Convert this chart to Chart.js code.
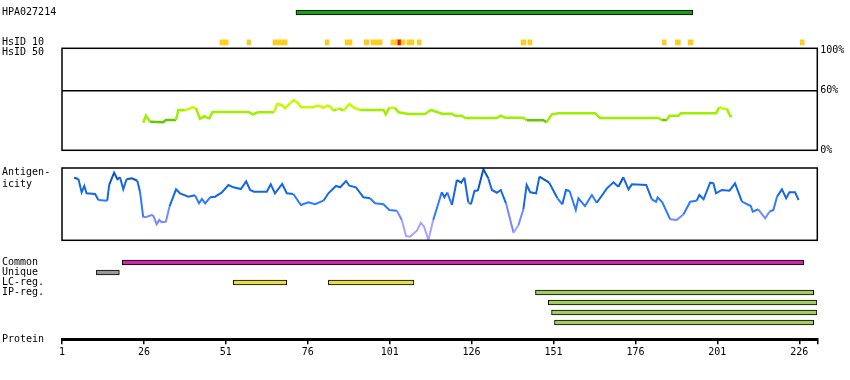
<!DOCTYPE html>
<html lang="en">
<head>
<meta charset="UTF-8">
<title>HPA027214</title>
<script src="https://cdn.jsdelivr.net/npm/chart.js"></script>
<style>
  body { margin: 0; background: #fff; }
  #wrap { position: relative; width: 850px; height: 380px; }
  #wrap canvas { position: absolute; left: 0; top: 0; }
</style>
</head>
<body>
<div id="wrap">
  <canvas id="topChart" width="850" height="380"></canvas>
  <canvas id="idChart" width="850" height="380"></canvas>
  <canvas id="antChart" width="850" height="380"></canvas>
  <canvas id="trackChart" width="850" height="380"></canvas>
  <canvas id="axisChart" width="850" height="380"></canvas>
</div>
<script>
// ---- data ----
const proteinLength = 231;
const axisTicks = [1, 26, 51, 76, 101, 126, 151, 176, 201, 226];

const topRows = ['HPA027214', 'gap1', 'gap2', 'HsID 10'];
const topTitles = ['HPA027214', '', '', 'HsID 10'];
const antigenRange = [72.4, 193.5];
const hsid10Yellow = [[49.2, 51.7], [57.5, 58.6], [65.4, 69.7], [81.3, 82.5], [87.4, 89.5], [93.2, 94.7],
  [95.3, 98.7], [101.4, 103.3], [104.5, 105.7], [106.3, 108.4], [109.4, 110.6], [141.1, 142.6],
  [143.2, 144.4], [184.2, 185.4], [188.2, 189.7], [192.1, 193.6], [226.3, 227.5]];
const hsid10Red = [[103.3, 104.5]];

const identityTicks = [0, 60, 100];
const identityPos = [25.8, 26.6, 27.9, 31.9, 32.7, 35.8, 36.5, 38.5, 40.9, 41.9, 43.1, 44.6, 45.2, 46.0, 46.9,
  57.9, 59.2, 60.9, 65.7, 66.7, 68.1, 69.1, 70.6, 71.8, 73.1, 73.9, 77.7, 78.8, 80.3, 80.7, 82.0, 83.0, 83.8,
  84.8, 85.6, 86.9, 88.7, 89.9, 92.0, 99.1, 99.8, 100.9, 102.6, 103.7, 106.7, 111.8, 113.6, 115.4, 116.9,
  120.0, 121.0, 123.0, 124.0, 133.7, 134.9, 136.2, 141.8, 142.8, 147.9, 148.9, 150.5, 152.5, 163.7, 165.2,
  183.0, 184.0, 185.6, 186.4, 189.1, 189.9, 200.6, 201.6, 202.9, 203.9, 204.9, 205.5];
const identityPct = [27.6, 34.6, 28.6, 28, 30.3, 30.3, 40.3, 40, 43, 42, 31.6, 34, 32.6, 32, 38.3,
  38.3, 36, 38, 38, 46.3, 45.3, 42, 47, 50.3, 47, 43, 43, 44.6, 43.6, 42.3, 44.6, 43.5, 39.6,
  41, 42, 39.6, 46.3, 43, 40.3, 40.3, 36, 42.6, 42.6, 38, 36.3, 36.3, 40.3, 38.3, 36.6,
  36.6, 34.6, 34.6, 32.3, 32.3, 34.6, 32.6, 32.6, 30, 30, 28, 36, 37, 37, 32.3,
  32.3, 30.3, 30.3, 34.6, 34.6, 37, 37, 43, 41.5, 41.5, 34.3, 34.3];

const antigenPos = [4.7, 6.0, 7.0, 7.5, 7.8, 8.5, 11.1, 12.1, 14.8, 15.4, 16.9, 17.9, 18.7, 19.7, 20.7, 22.3,
  24.0, 24.8, 25.8, 26.9, 28.4, 28.9, 29.9, 30.7, 31.4, 32.7, 33.8, 35.8, 37.0, 39.6, 41.6, 42.8, 43.7, 44.7,
  46.2, 47.7, 49.7, 51.8, 53.3, 55.6, 57.2, 58.4, 59.6, 63.5, 64.7, 66.0, 68.2, 69.6, 71.6, 73.9, 76.2, 78.2,
  80.8, 82.3, 84.6, 85.9, 87.7, 88.7, 90.7, 93.0, 95.0, 96.5, 99.1, 100.9, 103.2, 104.7, 106.0, 107.2, 109.3,
  110.5, 111.5, 112.8, 114.3, 116.9, 117.7, 118.6, 120.0, 121.5, 122.8, 123.8, 125.0, 125.8, 126.9, 127.9,
  129.6, 131.1, 132.2, 133.7, 134.9, 136.5, 138.8, 140.3, 141.8, 142.8, 143.9, 145.7, 146.7, 149.7, 152.2,
  153.7, 154.8, 155.9, 157.8, 158.6, 160.6, 162.7, 164.2, 167.3, 169.3, 170.8, 172.3, 173.9, 174.9, 179.3,
  181.0, 182.3, 182.8, 184.2, 186.6, 188.6, 190.7, 192.7, 194.7, 195.5, 196.8, 198.8, 199.8, 200.6, 202.4,
  204.7, 206.4, 208.5, 211.2, 211.8, 213.5, 215.6, 216.9, 218.1, 219.2, 220.7, 222.0, 223.0, 224.7, 225.8];
const antigenScore = [86.6, 84.8, 66.4, 71.9, 75.1, 65, 64, 55.7, 54.8, 76.5, 93.5, 84.4, 87.1, 70.5, 84.4, 85.7,
  82.4, 67.2, 31.8, 32.6, 35, 33.6, 22.1, 28.1, 24.9, 25.7, 46.5, 70.5, 65, 60.3, 62.2, 51.2, 57.1, 51.2,
  59.5, 60.3, 65.8, 76.5, 73.3, 70.9, 81.6, 69.6, 67.2, 67.2, 77.4, 65, 77.9, 65, 64, 48.8, 52.6, 49.8,
  54.8, 65, 75.1, 73.3, 82, 75.5, 73.3, 59.5, 58.1, 51.2, 49.8, 41.9, 40.9, 28.1, 5.9, 5, 13.3,
  24.3, 18.8, 0.4, 28.1, 66.4, 59.5, 66, 48.8, 83.4, 79.7, 86.6, 52.6, 49.8, 68.6, 68.6,
  98.2, 85.7, 69.6, 65.8, 69.6, 51.2, 10.5, 21.2, 42.9, 76.5, 66.4, 65, 88, 79.7, 58.1,
  49.8, 69.6, 68.2, 41.9, 58.1, 47.4, 62.6, 52, 71.9, 80.2, 74.1, 87.1, 70.5, 77.4, 76.5,
  56.7, 53.4, 59.5, 52.6, 29, 28.1, 36, 53.4, 54.8, 62.6, 56.7, 79.7, 78.8, 65, 69.6,
  68.6, 78.8, 53.4, 47.4, 39.6, 42.9, 30.4, 39.6, 41.9, 60.3, 70.5, 58.1, 66.4, 66.4, 55.7];

const trackRows = ['Common', 'Unique', 'LC-reg.', 'IP-reg.', 'IP-2', 'IP-3', 'IP-4'];
const trackTitles = ['Common', 'Unique', 'LC-reg.', 'IP-reg.', '', '', ''];
const commonRegion = [19.4, 227.4];
const uniqueRegion = [11.5, 18.5];
const lcRegions = [[53.3, 69.6], [82.3, 108.4]];
const ipRegions = [[145.5, 230.4], [149.4, 231.4], [150.4, 231.4], [151.3, 230.4]];

// ---- helpers ----
const font = { family: 'DejaVu Sans Mono', size: 10 };
const leftFit = s => { s.width = 60; };

function xScale(display) {
  return { type: 'linear', min: 1, max: proteinLength + 0.5, display: display };
}

function identityColor(v) {
  if (v < 31) return '#66c800';
  if (v < 41.5) return '#9ef000';
  return '#c6fa00';
}

function antigenColor(v) {
  if (v > 80) return '#0a56c2';
  if (v > 58) return '#1468e6';
  if (v > 40) return '#2e7aff';
  if (v > 22) return '#7488ff';
  return '#a8a2ff';
}

const panelBox = {
  id: 'panelBox',
  afterDraw(chart) {
    const a = chart.chartArea, c = chart.ctx;
    c.save();
    c.strokeStyle = '#000';
    c.lineWidth = 1.5;
    c.strokeRect(a.left, a.top, a.right - a.left, a.bottom - a.top);
    c.restore();
  }
};

const common = {
  responsive: false,
  animation: false,
  plugins: { legend: { display: false }, tooltip: { enabled: false } }
};

// ---- top: antibody + HsID 10 ----
new Chart(document.getElementById('topChart'), {
  type: 'bar',
  data: {
    labels: topRows,
    datasets: [
      { data: [{ y: topRows[0], x: antigenRange }], backgroundColor: '#1c9c1c', borderColor: '#000', borderWidth: 1 },
      { data: hsid10Yellow.map(r => ({ y: topRows[3], x: r })), backgroundColor: '#ffcc22', borderWidth: 0 },
      { data: hsid10Red.map(r => ({ y: topRows[3], x: r })), backgroundColor: '#ee1100', borderWidth: 0 }
    ]
  },
  options: {
    ...common,
    indexAxis: 'y',
    datasets: { bar: { grouped: false, borderSkipped: false, barThickness: 5 } },
    layout: { padding: { left: 2, right: 32.7, top: 7.5, bottom: 332.7 } },
    scales: {
      x: xScale(false),
      y: {
        grid: { display: false }, border: { display: false },
        ticks: { autoSkip: false, crossAlign: 'far', padding: 0, font, color: '#000', callback: (v, i) => topTitles[i] },
        afterFit: leftFit
      }
    }
  }
});

// ---- HsID 50 identity panel ----
new Chart(document.getElementById('idChart'), {
  type: 'line',
  data: {
    datasets: [{
      data: identityPos.map((x, i) => ({ x, y: identityPct[i] })),
      yAxisID: 'y',
      borderWidth: 2.5,
      pointRadius: 0,
      borderColor: '#9ef000',
      segment: { borderColor: ctx => identityColor((ctx.p0.parsed.y + ctx.p1.parsed.y) / 2) }
    }]
  },
  options: {
    ...common,
    layout: { padding: { left: 2, right: 0, top: 48.3, bottom: 229.7 } },
    scales: {
      x: xScale(false),
      y: {
        position: 'right', min: 0, max: 102,
        afterBuildTicks: s => { s.ticks = identityTicks.map(v => ({ value: v })); },
        ticks: { callback: v => v + '%', padding: 3, font, color: '#000' },
        grid: { drawTicks: false, lineWidth: 1.5, color: ctx => (ctx.tick && ctx.tick.value === 60) ? '#000' : 'rgba(0,0,0,0)' },
        border: { display: false },
        afterFit: s => { s.width = 32.7; }
      },
      yl: {
        position: 'left', min: 0, max: 102,
        afterBuildTicks: s => { s.ticks = [{ value: 100 }]; },
        ticks: { callback: () => 'HsID 50', crossAlign: 'far', padding: 0, labelOffset: 2, font, color: '#000' },
        grid: { display: false }, border: { display: false },
        afterFit: leftFit
      }
    }
  },
  plugins: [panelBox]
});

// ---- antigenicity panel ----
new Chart(document.getElementById('antChart'), {
  type: 'line',
  data: {
    datasets: [{
      data: antigenPos.map((x, i) => ({ x, y: antigenScore[i] })),
      borderWidth: 2,
      pointRadius: 0,
      borderColor: '#1468e6',
      segment: { borderColor: ctx => antigenColor((ctx.p0.parsed.y + ctx.p1.parsed.y) / 2) }
    }]
  },
  options: {
    ...common,
    layout: { padding: { left: 2, right: 32.7, top: 168, bottom: 139.7 } },
    scales: {
      x: xScale(false),
      y: {
        min: 0, max: 100,
        afterBuildTicks: s => { s.ticks = [{ value: 86 }]; },
        ticks: { callback: () => ['Antigen-', 'icity'], crossAlign: 'far', padding: 0, font, color: '#000' },
        grid: { display: false }, border: { display: false },
        afterFit: leftFit
      }
    }
  },
  plugins: [panelBox]
});

// ---- region tracks ----
new Chart(document.getElementById('trackChart'), {
  type: 'bar',
  data: {
    labels: trackRows,
    datasets: [
      { data: [{ y: trackRows[0], x: commonRegion }], backgroundColor: '#cc2aa0' },
      { data: [{ y: trackRows[1], x: uniqueRegion }], backgroundColor: '#999999' },
      { data: lcRegions.map(r => ({ y: trackRows[2], x: r })), backgroundColor: '#e8dc4c' },
      { data: ipRegions.map((r, i) => ({ y: trackRows[3 + i], x: r })), backgroundColor: '#a2cc62' }
    ]
  },
  options: {
    ...common,
    indexAxis: 'y',
    datasets: { bar: { grouped: false, borderSkipped: false, barThickness: 5, borderWidth: 1, borderColor: '#000' } },
    layout: { padding: { left: 2, right: 32.7, top: 257.5, bottom: 52.5 } },
    scales: {
      x: xScale(false),
      y: {
        grid: { display: false }, border: { display: false },
        ticks: { autoSkip: false, crossAlign: 'far', padding: 0, font, color: '#000', callback: (v, i) => trackTitles[i] },
        afterFit: leftFit
      }
    }
  }
});

// ---- protein axis ----
new Chart(document.getElementById('axisChart'), {
  type: 'line',
  data: { datasets: [] },
  options: {
    ...common,
    layout: { padding: { left: 2, right: 32.7, top: 330, bottom: 0 } },
    scales: {
      x: {
        type: 'linear', min: 1, max: proteinLength + 0.5,
        afterBuildTicks: s => { s.ticks = axisTicks.concat(proteinLength + 0.5).map(v => ({ value: v })); },
        ticks: { callback: v => axisTicks.includes(v) ? String(v) : '', font, color: '#000', padding: 2, maxRotation: 0, autoSkip: false },
        grid: { drawOnChartArea: false, drawTicks: true, tickLength: 5, color: '#000', lineWidth: 1.5 },
        border: { display: true, color: '#000', width: 3 },
        afterFit: s => { s.height = 40.7; }
      },
      y: {
        min: 0, max: 1,
        afterBuildTicks: s => { s.ticks = [{ value: 0 }]; },
        ticks: { callback: () => 'Protein', crossAlign: 'far', padding: 0, font, color: '#000' },
        grid: { display: false }, border: { display: false },
        afterFit: leftFit
      }
    }
  }
});
</script>
</body>
</html>
